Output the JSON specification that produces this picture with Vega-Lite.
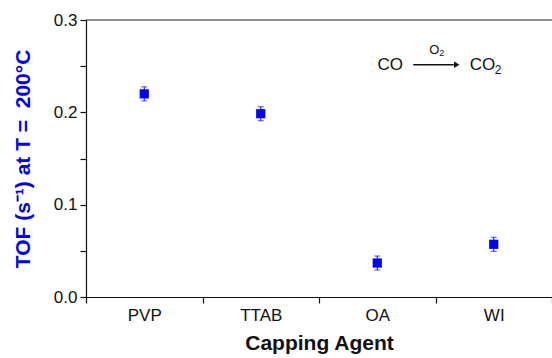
{
  "$schema": "https://vega.github.io/schema/vega-lite/v6.json",
  "width": 466,
  "height": 277,
  "autosize": {"type": "none"},
  "padding": {"left": 86, "top": 20, "right": 0, "bottom": 61},
  "background": "white",
  "config": {
    "view": {"stroke": null},
    "font": "Liberation Sans",
    "axis": {"labelFont": "Liberation Sans", "titleFont": "Liberation Sans", "labelColor": "#111", "domainColor": "#111", "tickColor": "#111", "grid": false}
  },
  "datasets": {
    "tof": [
      {"agent": "PVP", "tof": 0.220, "err": 0.0076},
      {"agent": "TTAB", "tof": 0.1985, "err": 0.0076},
      {"agent": "OA", "tof": 0.0368, "err": 0.0076},
      {"agent": "WI", "tof": 0.0571, "err": 0.0076}
    ],
    "note": [{"note": "CO → CO2 (O2)"}]
  },
  "layer": [
    {
      "data": {"name": "tof"},
      "mark": {"type": "errorbar", "ticks": {"size": 6, "color": "#0000ff", "thickness": 1}, "rule": {"color": "#0000ff", "strokeWidth": 1}},
      "encoding": {
        "x": {
          "field": "agent", "type": "nominal", "sort": ["PVP", "TTAB", "OA", "WI"],
          "scale": {"type": "band", "paddingInner": 0, "paddingOuter": 0},
          "axis": {"title": "Capping Agent", "titleFontSize": 21, "titleFontWeight": "bold", "titleColor": "#111", "labelFontSize": 17, "labelAngle": 0, "labelPadding": 4, "tickSize": 6, "tickBand": "extent", "domainWidth": 1.2, "tickWidth": 1.2, "titlePadding": 9}
        },
        "y": {
          "field": "tof", "type": "quantitative",
          "scale": {"domain": [0, 0.3], "nice": false, "zero": true},
          "axis": {"title": "TOF (s⁻¹) at T = \u00a0200°C", "titleFontSize": 21, "titleFontWeight": "bold", "titleColor": "#0000ee", "labelFontSize": 17, "values": [0, 0.05, 0.1, 0.15, 0.2, 0.25, 0.3], "labelExpr": "round(datum.value*20) % 2 == 0 ? format(datum.value, '.1f') : ''", "tickSize": 6, "labelPadding": 3, "domainWidth": 1.2, "tickWidth": 1.2, "titlePadding": 20}
        },
        "yError": {"field": "err"}
      }
    },
    {
      "data": {"name": "tof"},
      "mark": {"type": "point", "shape": "square", "filled": true, "size": 85, "color": "#0000ff", "opacity": 1},
      "encoding": {
        "x": {"field": "agent", "type": "nominal", "sort": ["PVP", "TTAB", "OA", "WI"]},
        "y": {"field": "tof", "type": "quantitative"}
      }
    },
    {"data": {"name": "note"}, "mark": {"type": "rule", "color": "#222", "strokeWidth": 1.2}, "encoding": {"y": {"datum": 0.3, "type": "quantitative"}}},
    {"data": {"name": "note"}, "mark": {"type": "text", "text": "CO", "fontSize": 17, "align": "center", "baseline": "middle", "dx": 13, "color": "#111"}, "encoding": {"x": {"datum": "OA"}, "y": {"datum": 0.251, "type": "quantitative"}}},
    {"data": {"name": "note"}, "mark": {"type": "rule", "color": "#111", "strokeWidth": 1.5, "xOffset": 36, "x2Offset": -40}, "encoding": {"x": {"datum": "OA"}, "x2": {"datum": "WI"}, "y": {"datum": 0.2515, "type": "quantitative"}}},
    {"data": {"name": "note"}, "mark": {"type": "point", "shape": "triangle-right", "filled": true, "size": 40, "color": "#111", "opacity": 1, "xOffset": -37}, "encoding": {"x": {"datum": "WI"}, "y": {"datum": 0.2515, "type": "quantitative"}}},
    {"data": {"name": "note"}, "mark": {"type": "text", "text": "O", "fontSize": 13, "align": "center", "baseline": "middle", "dx": 57, "color": "#111"}, "encoding": {"x": {"datum": "OA"}, "y": {"datum": 0.268, "type": "quantitative"}}},
    {"data": {"name": "note"}, "mark": {"type": "text", "text": "2", "fontSize": 9, "align": "left", "baseline": "middle", "dx": 62, "dy": 3, "color": "#111"}, "encoding": {"x": {"datum": "OA"}, "y": {"datum": 0.268, "type": "quantitative"}}},
    {"data": {"name": "note"}, "mark": {"type": "text", "text": "CO", "fontSize": 17, "align": "left", "baseline": "middle", "dx": -24, "color": "#111"}, "encoding": {"x": {"datum": "WI"}, "y": {"datum": 0.251, "type": "quantitative"}}},
    {"data": {"name": "note"}, "mark": {"type": "text", "text": "2", "fontSize": 12, "align": "left", "baseline": "middle", "dx": 1, "dy": 5, "color": "#111"}, "encoding": {"x": {"datum": "WI"}, "y": {"datum": 0.251, "type": "quantitative"}}}
  ]
}
